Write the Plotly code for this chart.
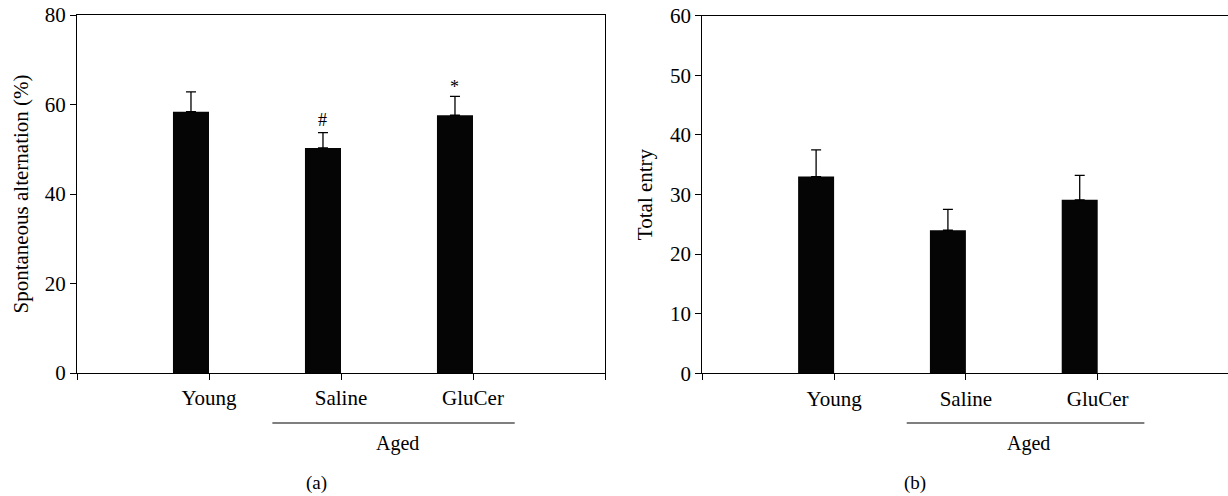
import plotly.graph_objects as go

# ---- data ----
groups = ["Young", "Saline", "GluCer"]
alternation = [58.4, 50.3, 57.6]
alternation_err = [4.4, 3.4, 4.2]
alternation_marks = ["", "#", "*"]
total_entry = [33.0, 24.0, 29.1]
total_entry_err = [4.5, 3.5, 4.1]
group_label = "Aged"
panel_labels = ["(a)", "(b)"]

FONT = "Liberation Serif"
BAR_W = 0.273
xpos = [1, 2, 3]

W, H = 1228, 496


def px(x):
    return x / W


def py(y):
    return 1 - y / H


fig = go.Figure()

fig.add_trace(go.Bar(
    x=xpos, y=alternation, width=BAR_W, offset=-BAR_W,
    marker=dict(color="#050505", line=dict(width=0)),
    error_y=dict(type="data", array=alternation_err, symmetric=False,
                 arrayminus=[0] * len(alternation), color="black",
                 thickness=1.3, width=5),
    xaxis="x", yaxis="y", showlegend=False))

fig.add_trace(go.Bar(
    x=xpos, y=total_entry, width=BAR_W, offset=-BAR_W,
    marker=dict(color="#050505", line=dict(width=0)),
    error_y=dict(type="data", array=total_entry_err, symmetric=False,
                 arrayminus=[0] * len(total_entry), color="black",
                 thickness=1.3, width=5),
    xaxis="x2", yaxis="y2", showlegend=False))

axis_common = dict(showgrid=False, zeroline=False, showline=True, linecolor="black",
                   linewidth=1.2, ticks="outside", tickcolor="black", ticklen=6,
                   tickwidth=1.2, automargin=False,
                   tickfont=dict(family=FONT, size=21, color="black"))

tickvals = [0, 1, 2, 3, 4]
ticktext = [""] + groups + [""]

fig.update_layout(
    width=W, height=H,
    margin=dict(l=0, r=0, t=0, b=0, autoexpand=False),
    paper_bgcolor="white", plot_bgcolor="white",
    font=dict(family=FONT, color="black"),
    xaxis=dict(domain=[px(77), px(605)], range=[0, 4], tickvals=tickvals,
               ticktext=ticktext, mirror=True, anchor="y", **axis_common),
    yaxis=dict(domain=[py(373), py(15)], range=[0, 80], dtick=20,
               mirror=True, anchor="x",
               title=dict(text="Spontaneous alternation (%)",
                          font=dict(family=FONT, size=21), standoff=10),
               **axis_common),
    xaxis2=dict(domain=[px(702.3), 1.0], range=[0, (1228 - 702.3) / 131.8],
                tickvals=tickvals, ticktext=ticktext, mirror=True, anchor="y2",
                **axis_common),
    yaxis2=dict(domain=[py(373.3), py(15.7)], range=[0, 60], dtick=10,
                mirror=False, anchor="x2",
                title=dict(text="Total entry", font=dict(family=FONT, size=21),
                           standoff=11),
                **axis_common),
)

# significance marks above error bars
shifts = {"#": 1, "*": -3}
for i, m in enumerate(alternation_marks):
    if m:
        fig.add_annotation(x=xpos[i] - BAR_W / 2, y=alternation[i] + alternation_err[i],
                           xref="x", yref="y", text=m, showarrow=False,
                           yanchor="bottom", yshift=shifts.get(m, 0),
                           font=dict(family=FONT, size=18, color="black"))

# "Aged" group brackets
for xr, x0, x1, xc in [("x", 1.48, 3.316, 2.427), ("x2", 1.551, 3.354, 2.473)]:
    fig.add_shape(type="line", xref=xr, yref="paper", x0=x0, x1=x1,
                  y0=py(423), y1=py(423),
                  line=dict(color="black", width=1.2))
    fig.add_annotation(x=xc, y=py(443), xref=xr, yref="paper", text=group_label,
                       showarrow=False, yanchor="middle",
                       font=dict(family=FONT, size=20, color="black"))

for lbl, xx in zip(panel_labels, [304.3, 927.7]):
    fig.add_annotation(x=px(xx), y=py(483), xref="paper", yref="paper",
                       text=lbl, showarrow=False, yanchor="middle",
                       font=dict(family=FONT, size=19, color="black"))

# remove the default 8px page margin so the figure fills the window exactly
fig.write_html(
    "out.html",
    config={"displayModeBar": False},
    post_script="document.body.style.margin='0';document.body.style.overflow='hidden';",
)
